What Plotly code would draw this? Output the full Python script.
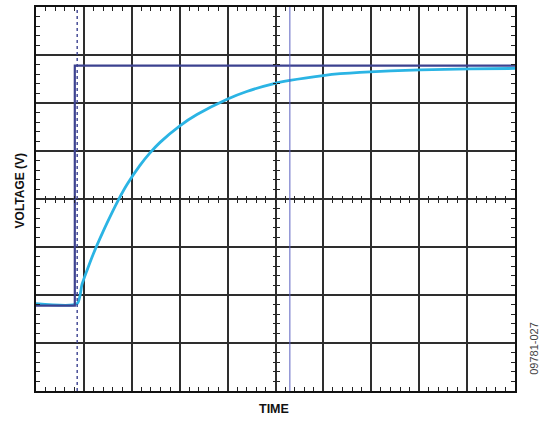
import plotly.graph_objects as go

# time and voltage in scope divisions (10 x 8 grid)
time_dark = [0.0, 0.81, 0.81, 10.0]
volt_dark = [1.78, 1.78, 6.78, 6.78]

time_light = [0.0, 0.86, 0.96, 1.06, 1.19, 1.40, 1.59, 1.71, 1.90, 2.17, 2.38, 2.59,
              3.01, 3.36, 3.99, 4.40, 4.99, 5.30, 5.99, 6.35, 6.76, 8.02, 9.06, 10.0]
volt_light = [1.82, 1.82, 2.22, 2.50, 2.84, 3.32, 3.72, 3.96, 4.30, 4.70, 4.96, 5.18,
              5.53, 5.76, 6.08, 6.24, 6.41, 6.47, 6.57, 6.61, 6.64, 6.69, 6.71, 6.72]

cursor_dashed = 0.86
cursor_solid = 5.30

fig = go.Figure()

fig.add_trace(go.Scatter(x=time_light, y=volt_light, mode="lines",
                         line=dict(color="#2bb4e4", width=2.8, shape="spline", smoothing=0.6),
                         showlegend=False))
fig.add_trace(go.Scatter(x=time_dark, y=volt_dark, mode="lines",
                         line=dict(color="#3c4290", width=2.2),
                         showlegend=False))
fig.add_trace(go.Scatter(x=[cursor_dashed, cursor_dashed], y=[0, 8], mode="lines",
                         line=dict(color="#3c4290", width=1.4, dash="3px,3px"),
                         showlegend=False))
fig.add_trace(go.Scatter(x=[cursor_solid, cursor_solid], y=[0, 8], mode="lines",
                         line=dict(color="#5a60c0", width=1),
                         showlegend=False))

grid = dict(showgrid=True, gridcolor="#2e2e2e", gridwidth=1.5, dtick=1,
            showticklabels=False, zeroline=False, ticks="",
            showline=True, linecolor="#111", linewidth=2.2, mirror="allticks",
            minor=dict(ticks="inside", dtick=0.2, ticklen=4, tickcolor="#222", tickwidth=1.2))

center = dict(overlaying=None, anchor="free", position=0.5, showgrid=False, zeroline=False,
              showline=False, showticklabels=False, ticks="",
              minor=dict(dtick=0.2, ticklen=3, tickcolor="#222", tickwidth=1.2))

fig.update_layout(
    width=540, height=421,
    margin=dict(l=36, r=25, t=5, b=30),
    paper_bgcolor="white", plot_bgcolor="white",
    xaxis=dict(range=[0, 10], **grid),
    yaxis=dict(range=[0, 8], **grid),
    xaxis2=dict(center, overlaying="x", range=[0, 10], minor=dict(center["minor"], ticks="outside")),
    xaxis3=dict(center, overlaying="x", range=[0, 10], minor=dict(center["minor"], ticks="inside")),
    yaxis2=dict(center, overlaying="y", range=[0, 8], minor=dict(center["minor"], ticks="outside")),
    yaxis3=dict(center, overlaying="y", range=[0, 8], minor=dict(center["minor"], ticks="inside")),
    font=dict(family="Liberation Sans, Arial, sans-serif", color="#111"),
    annotations=[
        dict(text="<b>VOLTAGE (V)</b>", xref="paper", yref="paper", x=-0.0344, y=0.521,
             textangle=-90, showarrow=False, font=dict(size=12), xanchor="center", yanchor="middle"),
        dict(text="<b>TIME</b>", xref="paper", yref="paper", x=0.497, y=-0.0466,
             showarrow=False, font=dict(size=12.5), xanchor="center", yanchor="middle"),
        dict(text="09781-027", xref="paper", yref="paper", x=1.0397, y=0.11,
             textangle=-90, showarrow=False, font=dict(size=11, color="#444"),
             xanchor="center", yanchor="middle"),
    ],
)

# invisible traces so the centre-line axes are drawn
for xa, ya in [("x2", "y2"), ("x3", "y3")]:
    fig.add_trace(go.Scatter(x=[None], y=[None], xaxis=xa, yaxis=ya, showlegend=False))

fig.write_html("out.html", config={"displayModeBar": False},
               post_script="document.body.style.margin='0';")
